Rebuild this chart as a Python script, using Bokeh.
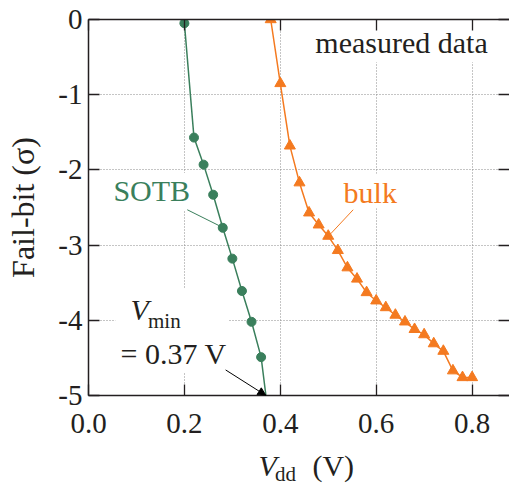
import math
from bokeh.plotting import figure
from bokeh.layouts import column
from bokeh.models import (Range1d, LinearAxis, FixedTicker, Label, Arrow, NormalHead,
                          CustomJSTickFormatter, BoxAnnotation)
from bokeh.embed import file_html
from bokeh.resources import INLINE

# ---------------- data ----------------
sotb_vdd = [0.20, 0.22, 0.24, 0.26, 0.28, 0.30, 0.32, 0.34, 0.36]
sotb_sigma = [-0.05, -1.57, -1.93, -2.33, -2.77, -3.18, -3.61, -4.02, -4.49]
sotb_vmin = 0.37          # extrapolated V_min at -5 sigma
sotb_vmin_sigma = -5.0

bulk_vdd = [0.38, 0.40, 0.42, 0.44, 0.46, 0.48, 0.50, 0.52, 0.54, 0.56, 0.58,
            0.60, 0.62, 0.64, 0.66, 0.68, 0.70, 0.72, 0.74, 0.76, 0.78, 0.80]
bulk_sigma = [0.00, -0.85, -1.68, -2.17, -2.57, -2.73, -2.88, -3.07, -3.30, -3.45, -3.63,
              -3.74, -3.83, -3.93, -4.02, -4.12, -4.19, -4.31, -4.41, -4.67, -4.76, -4.76]

x_ticks = [0.0, 0.2, 0.4, 0.6, 0.8]
y_ticks = [0, -1, -2, -3, -4, -5]

GREEN = "#3a7f5c"
ORANGE = "#f47a20"
INK = "#231f20"
FONT = "Liberation Serif"

MAIN_H = 445       # height of the main plot
XT_H = 41          # height of the x-title strip
PX_PER_SIGMA = 376 / 5.0
MID = 0.3375       # baseline offset below the vertical middle, in em

# ---------------- main plot ----------------
p = figure(width=509, height=MAIN_H, output_backend="svg", toolbar_location=None,
           x_range=Range1d(0, 0.878), y_range=Range1d(-5, 0),
           min_border_left=88, min_border_right=0, min_border_top=19,
           min_border_bottom=MAIN_H - 395,
           x_axis_location=None, y_axis_location=None)
p.outline_line_color = None
p.background_fill_color = "white"

xb = LinearAxis(formatter=CustomJSTickFormatter(code="return tick.toFixed(1)"))
p.add_layout(xb, "below")
yl = LinearAxis(formatter=CustomJSTickFormatter(code="return tick.toFixed(0)"),
                axis_label="Fail-bit (σ)")
p.add_layout(yl, "left")
xt = LinearAxis(formatter=CustomJSTickFormatter(code="return ''"))
p.add_layout(xt, "above")
yr = LinearAxis(formatter=CustomJSTickFormatter(code="return ''"))
p.add_layout(yr, "right")

for ax, show, ln, tk in [(xb, True, True, x_ticks), (xt, False, True, x_ticks),
                         (yl, True, True, y_ticks), (yr, False, False, y_ticks)]:
    ax.ticker = FixedTicker(ticks=tk)
    ax.major_tick_in = 11
    ax.major_tick_out = 0
    ax.minor_tick_in = 0
    ax.minor_tick_out = 0
    ax.major_tick_line_color = INK
    ax.major_tick_line_width = 1.3
    ax.axis_line_color = INK if ln else None
    ax.axis_line_width = 1.5
    if show:
        ax.major_label_text_font = FONT
        ax.major_label_text_font_size = "29px"
        ax.major_label_text_color = INK
    else:
        ax.major_label_text_font_size = "10px"
        ax.major_label_standoff = 0
xb.major_label_standoff = 18
yl.major_label_standoff = 6
yl.axis_label_text_font = FONT
yl.axis_label_text_font_size = "32px"
yl.axis_label_text_font_style = "normal"
yl.axis_label_text_color = INK
yl.axis_label_standoff = 14

p.xgrid.ticker = FixedTicker(ticks=x_ticks[1:])
p.ygrid.ticker = FixedTicker(ticks=y_ticks[1:-1])
for g in (p.xgrid, p.ygrid):
    g.grid_line_color = "#8a8a8a"
    g.grid_line_dash = "1 2"
    g.grid_line_width = 1

# white boxes behind the in-plot texts (they interrupt the grid)
for l, r, b, t in [(0.455, 0.86, -0.57, 0.0), (0.042, 0.217, -2.54, -2.04),
                   (0.52, 0.655, -2.51, -2.05), (0.056, 0.292, -4.70, -3.58)]:
    p.add_layout(BoxAnnotation(left=l, right=r, bottom=b, top=t, fill_color="white",
                               fill_alpha=1, line_color=None, level="underlay"))

def lab(fig, x, y, text, size=30, color=INK, style="normal", per_unit=1.0):
    # y is the wanted baseline; the label is anchored at its vertical middle
    l = Label(x=x, y=y + MID * size / per_unit, text=text, text_font=FONT,
              text_font_size=f"{size}px", text_color=color, text_font_style=style,
              text_baseline="middle", text_align="left")
    fig.add_layout(l)
    return l

# leader lines
p.segment(x0=[0.206], y0=[-2.53], x1=[0.272], y1=[-2.74], line_color=GREEN, line_width=1)
p.segment(x0=[0.552], y0=[-2.53], x1=[0.505], y1=[-2.85], line_color=ORANGE, line_width=1)

# ---------------- series ----------------
p.line(sotb_vdd + [sotb_vmin], sotb_sigma + [sotb_vmin_sigma], line_color=GREEN, line_width=1.5)
p.scatter(sotb_vdd, sotb_sigma, marker="circle", size=9, fill_color=GREEN, line_color=GREEN)
p.line(bulk_vdd, bulk_sigma, line_color=ORANGE, line_width=1.5)
p.scatter(bulk_vdd, bulk_sigma, marker="triangle", size=11, fill_color=ORANGE, line_color=ORANGE)

lab(p, 0.473, -0.447, "measured data", per_unit=PX_PER_SIGMA)
lab(p, 0.052, -2.41, "SOTB", color=GREEN, per_unit=PX_PER_SIGMA)
lab(p, 0.532, -2.43, "bulk", color=ORANGE, per_unit=PX_PER_SIGMA)
lab(p, 0.0876, -3.99, "V", style="italic", per_unit=PX_PER_SIGMA)
lab(p, 0.124, -4.10, "min", size=21, per_unit=PX_PER_SIGMA)
lab(p, 0.0668, -4.57, "= 0.37 V", per_unit=PX_PER_SIGMA)

p.add_layout(Arrow(x_start=0.286, y_start=-4.66, x_end=sotb_vmin, y_end=sotb_vmin_sigma,
                   line_color="black", line_width=1,
                   end=NormalHead(size=8, fill_color="black", line_color="black")))

# ---------------- x-title strip (shares the x scale; y in pixels) ----------------
xs = figure(width=509, height=XT_H, output_backend="svg", toolbar_location=None,
            x_range=p.x_range, y_range=Range1d(0, XT_H), min_border=0,
            min_border_left=88, min_border_right=0,
            x_axis_location=None, y_axis_location=None)
xs.grid.visible = False
xs.outline_line_color = None
lab(xs, 0.3545, XT_H - (475 - MAIN_H), "V", style="italic")
lab(xs, 0.389, XT_H - (481 - MAIN_H), "dd", size=21)
lab(xs, 0.467, XT_H - (475 - MAIN_H), "(V)")

layout = column(p, xs)
open("out.html", "w").write(file_html(layout, INLINE))
